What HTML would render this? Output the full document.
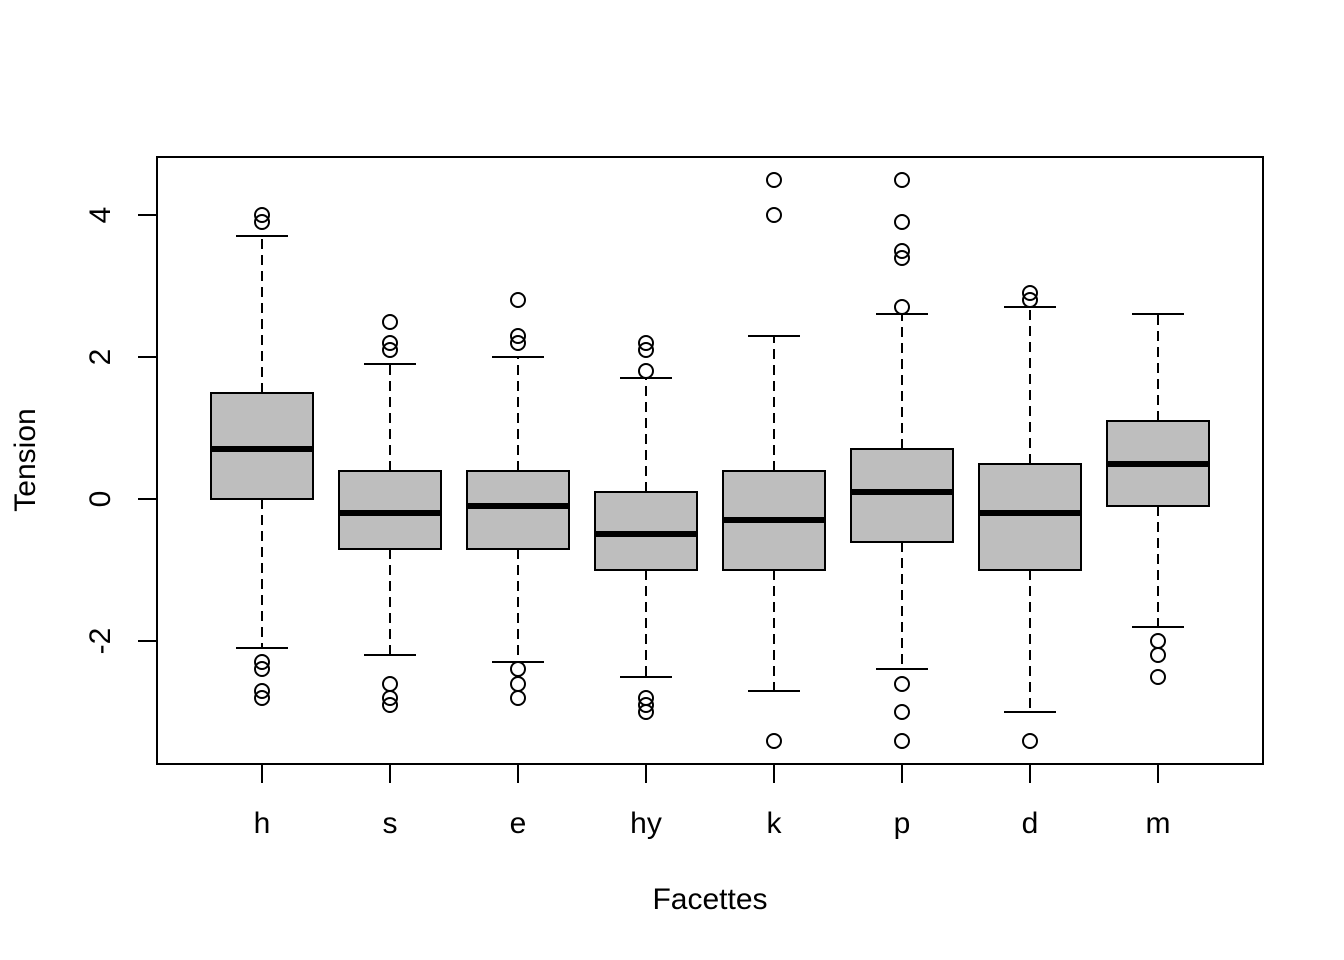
<!DOCTYPE html>
<html><head><meta charset="utf-8"><style>body{margin:0;background:#fff}svg{display:block}text{font-family:"Liberation Sans",Arial,sans-serif;font-size:30px;fill:#000}</style></head><body>
<svg width="1344" height="960" viewBox="0 0 1344 960">
<g stroke="#000" stroke-width="2" fill="none">
<g stroke-dasharray="10,6">
<line x1="262" y1="393" x2="262" y2="236"/><line x1="262" y1="499" x2="262" y2="648"/>
<line x1="390" y1="471" x2="390" y2="364"/><line x1="390" y1="549" x2="390" y2="655"/>
<line x1="518" y1="471" x2="518" y2="357"/><line x1="518" y1="549" x2="518" y2="662"/>
<line x1="646" y1="492" x2="646" y2="378"/><line x1="646" y1="570" x2="646" y2="677"/>
<line x1="774" y1="471" x2="774" y2="336"/><line x1="774" y1="570" x2="774" y2="691"/>
<line x1="902" y1="449" x2="902" y2="314"/><line x1="902" y1="542" x2="902" y2="669"/>
<line x1="1030" y1="464" x2="1030" y2="307"/><line x1="1030" y1="570" x2="1030" y2="712"/>
<line x1="1158" y1="421" x2="1158" y2="314"/><line x1="1158" y1="506" x2="1158" y2="627"/>
</g>
<line x1="236" y1="236" x2="288" y2="236"/><line x1="236" y1="648" x2="288" y2="648"/>
<line x1="364" y1="364" x2="416" y2="364"/><line x1="364" y1="655" x2="416" y2="655"/>
<line x1="492" y1="357" x2="544" y2="357"/><line x1="492" y1="662" x2="544" y2="662"/>
<line x1="620" y1="378" x2="672" y2="378"/><line x1="620" y1="677" x2="672" y2="677"/>
<line x1="748" y1="336" x2="800" y2="336"/><line x1="748" y1="691" x2="800" y2="691"/>
<line x1="876" y1="314" x2="928" y2="314"/><line x1="876" y1="669" x2="928" y2="669"/>
<line x1="1004" y1="307" x2="1056" y2="307"/><line x1="1004" y1="712" x2="1056" y2="712"/>
<line x1="1132" y1="314" x2="1184" y2="314"/><line x1="1132" y1="627" x2="1184" y2="627"/>
<g fill="#bebebe">
<rect x="211" y="393" width="102" height="106"/>
<rect x="339" y="471" width="102" height="78"/>
<rect x="467" y="471" width="102" height="78"/>
<rect x="595" y="492" width="102" height="78"/>
<rect x="723" y="471" width="102" height="99"/>
<rect x="851" y="449" width="102" height="93"/>
<rect x="979" y="464" width="102" height="106"/>
<rect x="1107" y="421" width="102" height="85"/>
</g>
<g stroke-width="6">
<line x1="211" y1="449" x2="313" y2="449"/>
<line x1="339" y1="513" x2="441" y2="513"/>
<line x1="467" y1="506" x2="569" y2="506"/>
<line x1="595" y1="534" x2="697" y2="534"/>
<line x1="723" y1="520" x2="825" y2="520"/>
<line x1="851" y1="492" x2="953" y2="492"/>
<line x1="979" y1="513" x2="1081" y2="513"/>
<line x1="1107" y1="464" x2="1209" y2="464"/>
</g>
<g>
<circle cx="262" cy="215" r="7"/><circle cx="262" cy="222" r="7"/><circle cx="262" cy="662" r="7"/><circle cx="262" cy="669" r="7"/><circle cx="262" cy="691" r="7"/><circle cx="262" cy="698" r="7"/>
<circle cx="390" cy="322" r="7"/><circle cx="390" cy="343" r="7"/><circle cx="390" cy="350" r="7"/><circle cx="390" cy="684" r="7"/><circle cx="390" cy="698" r="7"/><circle cx="390" cy="705" r="7"/>
<circle cx="518" cy="300" r="7"/><circle cx="518" cy="336" r="7"/><circle cx="518" cy="343" r="7"/><circle cx="518" cy="669" r="7"/><circle cx="518" cy="684" r="7"/><circle cx="518" cy="698" r="7"/>
<circle cx="646" cy="343" r="7"/><circle cx="646" cy="350" r="7"/><circle cx="646" cy="371" r="7"/><circle cx="646" cy="698" r="7"/><circle cx="646" cy="705" r="7"/><circle cx="646" cy="712" r="7"/>
<circle cx="774" cy="180" r="7"/><circle cx="774" cy="215" r="7"/><circle cx="774" cy="741" r="7"/>
<circle cx="902" cy="180" r="7"/><circle cx="902" cy="222" r="7"/><circle cx="902" cy="251" r="7"/><circle cx="902" cy="258" r="7"/><circle cx="902" cy="307" r="7"/><circle cx="902" cy="684" r="7"/><circle cx="902" cy="712" r="7"/><circle cx="902" cy="741" r="7"/>
<circle cx="1030" cy="293" r="7"/><circle cx="1030" cy="300" r="7"/><circle cx="1030" cy="741" r="7"/>
<circle cx="1158" cy="641" r="7"/><circle cx="1158" cy="655" r="7"/><circle cx="1158" cy="677" r="7"/>
</g>
<rect x="157" y="157" width="1106" height="607"/>
<line x1="138" y1="215" x2="157" y2="215"/><line x1="138" y1="357" x2="157" y2="357"/><line x1="138" y1="499" x2="157" y2="499"/><line x1="138" y1="641" x2="157" y2="641"/>
<line x1="262" y1="764" x2="262" y2="783"/><line x1="390" y1="764" x2="390" y2="783"/><line x1="518" y1="764" x2="518" y2="783"/><line x1="646" y1="764" x2="646" y2="783"/><line x1="774" y1="764" x2="774" y2="783"/><line x1="902" y1="764" x2="902" y2="783"/><line x1="1030" y1="764" x2="1030" y2="783"/><line x1="1158" y1="764" x2="1158" y2="783"/>
</g>
<g text-anchor="middle">
<text x="262" y="833">h</text><text x="390" y="833">s</text><text x="518" y="833">e</text><text x="646" y="833">hy</text><text x="774" y="833">k</text><text x="902" y="833">p</text><text x="1030" y="833">d</text><text x="1158" y="833">m</text>
<text x="710" y="909">Facettes</text>
<text transform="translate(110,215) rotate(-90)">4</text>
<text transform="translate(110,357) rotate(-90)">2</text>
<text transform="translate(110,499) rotate(-90)">0</text>
<text transform="translate(110,641) rotate(-90)">-2</text>
<text transform="translate(35,460) rotate(-90)">Tension</text>
</g>
</svg>
</body></html>
